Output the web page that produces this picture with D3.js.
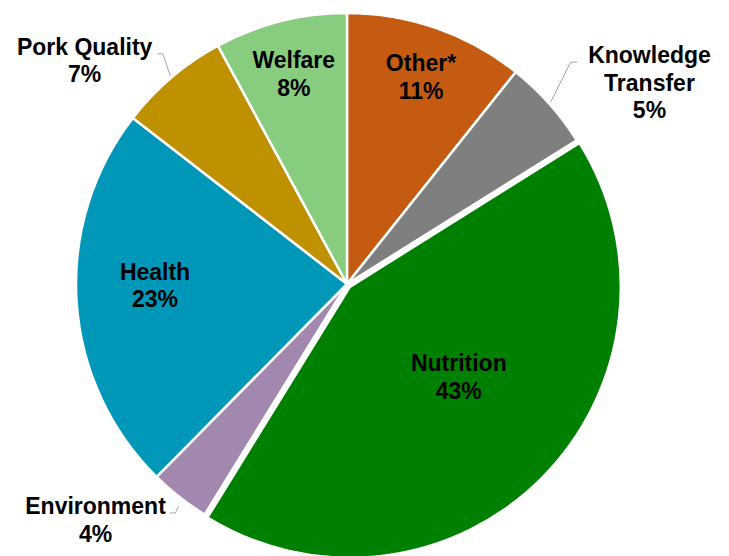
<!DOCTYPE html>
<html>
  <head>
    <meta charset="utf-8">
    <title>Research areas</title>
    <script src="https://d3js.org/d3.v7.min.js"></script>
    <style>
      body { margin: 0; background: #fff; }
      #chart { display: block; }
      .label { font-family: "Liberation Sans", Arial, sans-serif; font-weight: bold; font-size: 23px; fill: #000; }
      .leader { fill: none; stroke: #a6a6a6; stroke-width: 1; }
    </style>
  </head>
  <body>
    <svg id="chart" width="729" height="556">
      <g id="pieGroup"></g>
      <g id="leaderGroup"></g>
      <g id="labelGroup"></g>
    </svg>
    <script>
      // data, clockwise from 12 o'clock
      categories = ["Other*", "Knowledge Transfer", "Nutrition", "Environment", "Health", "Pork Quality", "Welfare"];
      shares = [10.7, 5.4, 42.7, 3.6, 23.1, 6.6, 7.9];
      percentLabels = ["11%", "5%", "43%", "4%", "23%", "7%", "8%"];
      colours = ["#c55a11", "#7f7f7f", "#008000", "#a288ae", "#0097b9", "#bf9000", "#88cc7f"];
      // layout
      width = 729;
      height = 556;
      cx = 347;
      cy = 284;
      radius = 271;
      explode = { "Nutrition": 4 };
      // inside labels sit at a fraction of the radius, then get nudged like excel's best fit
      insideRadius = { "Nutrition": 0.52, "Health": 0.71 };
      insideNudge = { "Other*": [2.5, -2.5], "Health": [0, -11], "Nutrition": [9, -9] };
      outside = {
        "Knowledge Transfer": { lines: ["Knowledge", "Transfer"], startR: 273, nudge: [0, 0], elbow: [20, -40], gap: 11 },
        "Pork Quality": { lines: ["Pork Quality"], startR: 273, nudge: [0, 0], elbow: [-7.5, -22], gap: 5 },
        "Environment": { lines: ["Environment"], startR: 279, nudge: [4, 3], elbow: [-3.3, 6.6], gap: 4 }
      };
      lineHeight = 27.6;
      capHeight = 16;
      data = categories.map(function(c, i) {
        return { category: c, share: shares[i], pct: percentLabels[i], colour: colours[i] };
      });
      pie = d3.pie()
        .sort(null)
        .value(function(d) { return d.share; });
      arc = d3.arc()
        .innerRadius(0)
        .outerRadius(radius);
      slices = pie(data);
      function mid(d) { return (d.startAngle + d.endAngle) / 2; }
      function polar(a, r) { return [Math.sin(a) * r, -Math.cos(a) * r]; }
      function shift(d) {
        var e = explode[d.data.category] || 0;
        return polar(mid(d), e);
      }
      chart = d3.select("#chart");
      chart.selectAll("g").attr("transform", "translate(" + cx + "," + cy + ")");
      // slices
      d3.select("#pieGroup").selectAll("path")
        .data(slices)
        .enter()
        .append("path")
          .attr("d", arc)
          .attr("transform", function(d) { return "translate(" + shift(d) + ")"; })
          .attr("fill", function(d) { return d.data.colour; })
          .attr("stroke", "#fff")
          .attr("stroke-width", 2.5)
          .attr("stroke-linejoin", "round");
      labelGroup = d3.select("#labelGroup");
      leaderGroup = d3.select("#leaderGroup");
      slices.forEach(function(d) {
        var o = outside[d.data.category];
        var s = shift(d);
        if (!o) {
          // label inside the slice
          var p = polar(mid(d), radius * (insideRadius[d.data.category] || 0.8));
          var n = insideNudge[d.data.category] || [0, 0];
          var x = p[0] + s[0] + n[0], y = p[1] + s[1] + n[1];
          var t = labelGroup.append("text")
            .classed("label", true)
            .attr("text-anchor", "middle");
          [d.data.category, d.data.pct].forEach(function(line, j) {
            t.append("tspan")
              .attr("x", x)
              .attr("y", y - lineHeight / 2 + capHeight / 2 + j * lineHeight)
              .text(line);
          });
          return;
        }
        // leader line and label outside
        var a = mid(d);
        var p0 = polar(a, o.startR);
        var start = [p0[0] + o.nudge[0], p0[1] + o.nudge[1]];
        var elbow = [start[0] + o.elbow[0], start[1] + o.elbow[1]];
        var right = Math.sin(a) > 0;
        var end = [elbow[0] + (right ? 6.5 : -5.5), elbow[1]];
        leaderGroup.append("path")
          .classed("leader", true)
          .attr("d", d3.line()([start, elbow, end]));
        var lines = o.lines.concat([d.data.pct]);
        var t = labelGroup.append("text")
          .classed("label", true)
          .attr("text-anchor", "middle");
        var spans = lines.map(function(line, j) {
          return t.append("tspan")
            .attr("y", elbow[1] + 1 + j * lineHeight)
            .text(line);
        });
        var w = d3.max(spans, function(sp) { return sp.node().getComputedTextLength(); });
        var x = right ? end[0] + o.gap + w / 2 : end[0] - o.gap - w / 2;
        spans.forEach(function(sp) { sp.attr("x", x); });
      });
    </script>
  </body>
</html>
